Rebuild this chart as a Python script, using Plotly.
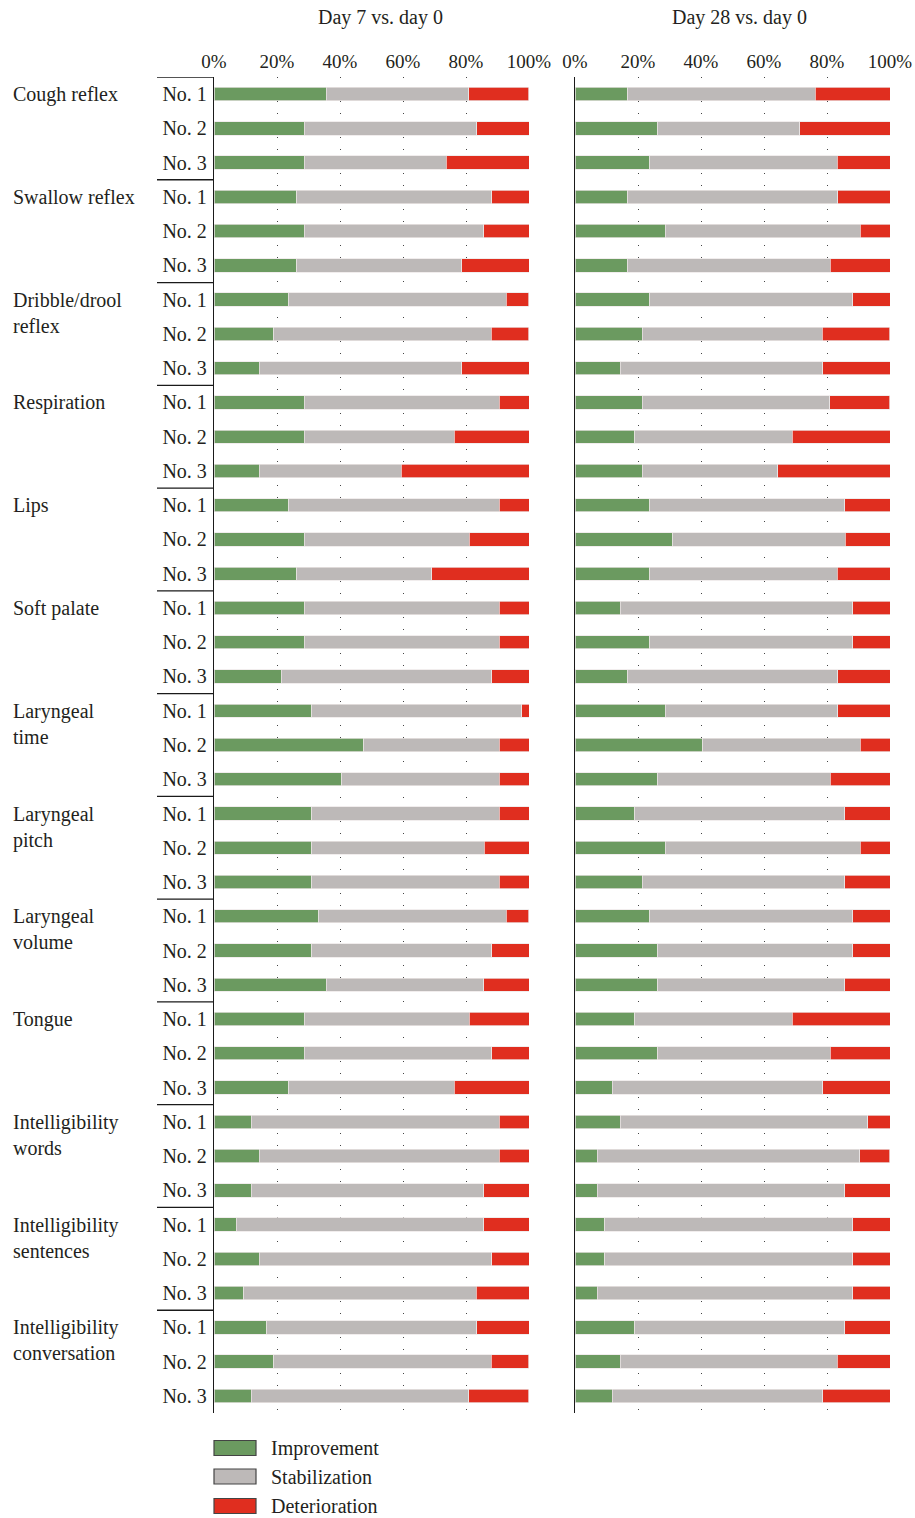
import plotly.graph_objects as go

# ---------------- data ----------------
groups = ["Cough reflex", "Swallow reflex", "Dribble/drool<br>reflex", "Respiration", "Lips",
          "Soft palate", "Laryngeal<br>time", "Laryngeal<br>pitch", "Laryngeal<br>volume",
          "Tongue", "Intelligibility<br>words", "Intelligibility<br>sentences",
          "Intelligibility<br>conversation"]
subitems = ["No. 1", "No. 2", "No. 3"]
series_names = ["Improvement", "Stabilization", "Deterioration"]
tick_vals = [0, 20, 40, 60, 80, 100]
tick_text = ["0%", "20%", "40%", "60%", "80%", "100%"]
panel_titles = ["Day 7 vs. day 0", "Day 28 vs. day 0"]

d7_imp = [35.7, 28.6, 28.6, 26.2, 28.6, 26.2, 23.8, 19.0, 14.3, 28.6, 28.6, 14.3,
          23.8, 28.6, 26.2, 28.6, 28.6, 21.4, 31.0, 47.6, 40.5, 31.0, 31.0, 31.0,
          33.3, 31.0, 35.7, 28.6, 28.6, 23.8, 11.9, 14.3, 11.9, 7.1, 14.3, 9.5,
          16.7, 19.0, 11.9]
d7_stab = [45.2, 54.8, 45.2, 61.9, 57.1, 52.4, 69.0, 69.0, 64.3, 61.9, 47.6, 45.2,
           66.7, 52.4, 42.9, 61.9, 61.9, 66.7, 66.7, 42.9, 50.0, 59.5, 54.8, 59.5,
           59.5, 57.1, 50.0, 52.4, 59.5, 52.4, 78.6, 76.2, 73.8, 78.6, 73.8, 73.8,
           66.7, 69.0, 69.0]
d7_det = [19.0, 16.7, 26.2, 11.9, 14.3, 21.4, 7.1, 11.9, 21.4, 9.5, 23.8, 40.5,
          9.5, 19.0, 31.0, 9.5, 9.5, 11.9, 2.4, 9.5, 9.5, 9.5, 14.3, 9.5,
          7.1, 11.9, 14.3, 19.0, 11.9, 23.8, 9.5, 9.5, 14.3, 14.3, 11.9, 16.7,
          16.7, 11.9, 19.0]

d28_imp = [16.7, 26.2, 23.8, 16.7, 28.6, 16.7, 23.8, 21.4, 14.3, 21.4, 19.0, 21.4,
           23.8, 31.0, 23.8, 14.3, 23.8, 16.7, 28.6, 40.5, 26.2, 19.0, 28.6, 21.4,
           23.8, 26.2, 26.2, 19.0, 26.2, 11.9, 14.3, 7.1, 7.1, 9.5, 9.5, 7.1,
           19.0, 14.3, 11.9]
d28_stab = [59.5, 45.2, 59.5, 66.7, 61.9, 64.3, 64.3, 57.1, 64.3, 59.5, 50.0, 42.9,
            61.9, 54.8, 59.5, 73.8, 64.3, 66.7, 54.8, 50.0, 54.8, 66.7, 61.9, 64.3,
            64.3, 61.9, 59.5, 50.0, 54.8, 66.7, 78.6, 83.3, 78.6, 78.6, 78.6, 81.0,
            66.7, 69.0, 66.7]
d28_det = [23.8, 28.6, 16.7, 16.7, 9.5, 19.0, 11.9, 21.4, 21.4, 19.0, 31.0, 35.7,
           14.3, 14.3, 16.7, 11.9, 11.9, 16.7, 16.7, 9.5, 19.0, 14.3, 9.5, 14.3,
           11.9, 11.9, 14.3, 31.0, 19.0, 21.4, 7.1, 9.5, 14.3, 11.9, 11.9, 11.9,
           14.3, 16.7, 21.4]

# ---------------- styling ----------------
W, H = 915, 1518
FONT = "Liberation Serif"
TXT = "#231f20"
colors = ["#6b9a60", "#bdb9b8", "#e02e1f"]

keys = [f"{g}|{s}" for g in groups for s in subitems]
labels = [s for g in groups for s in subitems]

def px_x(p):
    return p / W

def px_y(p):
    return 1 - p / H

y_top, y_bot = 77, 1413
ydom = [px_y(y_bot), px_y(y_top)]
xdom1 = [px_x(214), px_x(529)]
xdom2 = [px_x(575), px_x(890)]

fig = go.Figure()
panels = [(d7_imp, d7_stab, d7_det), (d28_imp, d28_stab, d28_det)]
for pi, vals in enumerate(panels):
    xa = "x" if pi == 0 else "x2"
    ya = "y" if pi == 0 else "y2"
    for si, v in enumerate(vals):
        fig.add_trace(go.Bar(
            x=v, y=keys, orientation="h", name=series_names[si],
            marker=dict(color=colors[si], line=dict(color="rgba(235,230,230,0.9)", width=0.8)),
            width=0.39, xaxis=xa, yaxis=ya, showlegend=False,
            hovertemplate="%{x}%<extra>" + series_names[si] + "</extra>"))

xcommon = dict(range=[0, 100], side="top", tickmode="array", tickvals=tick_vals,
               ticktext=tick_text, showgrid=True, gridcolor="#444", gridwidth=1,
               griddash="1px,11px", zeroline=False, ticks="", showline=False,
               automargin=False, ticklabelstandoff=4,
               tickfont=dict(family=FONT, size=19, color=TXT), fixedrange=True)
ycommon = dict(domain=ydom, type="category", categoryorder="array", categoryarray=keys,
               range=[len(keys) - 0.5, -0.5], showgrid=False, zeroline=False,
               showline=True, linecolor="#1a1a1a", linewidth=1.3, ticks="",
               automargin=False, fixedrange=True)

fig.update_layout(
    width=W, height=H, margin=dict(l=0, r=0, t=0, b=0, autoexpand=False),
    paper_bgcolor="white", plot_bgcolor="white", barmode="stack",
    font=dict(family=FONT, size=20, color=TXT),
    xaxis=dict(domain=xdom1, anchor="y", **xcommon),
    xaxis2=dict(domain=xdom2, anchor="y2", **xcommon),
    yaxis=dict(anchor="x", tickmode="array", tickvals=keys, ticktext=labels,
               tickfont=dict(family=FONT, size=20, color=TXT), ticklabelstandoff=2, **ycommon),
    yaxis2=dict(anchor="x2", showticklabels=False, **ycommon),
)

# bracket lines separating groups on the left
shapes = []
for gi in range(len(groups)):
    yb = gi * len(subitems) - 0.5
    shapes.append(dict(type="line", xref="paper", yref="y", x0=px_x(157), x1=px_x(214),
                       y0=yb, y1=yb, line=dict(color="#1a1a1a", width=1.3)))

annotations = []
# group labels
for gi, g in enumerate(groups):
    annotations.append(dict(text=g, xref="paper", yref="y", x=px_x(11),
                            y=keys[gi * len(subitems)], xanchor="left", yanchor="top",
                            yshift=13, align="left", showarrow=False,
                            font=dict(family=FONT, size=20, color=TXT)))
# panel titles
for t, cx in zip(panel_titles, [380, 739]):
    annotations.append(dict(text=t, xref="paper", yref="paper", x=px_x(cx), y=px_y(17),
                            xanchor="center", yanchor="middle", showarrow=False,
                            font=dict(family=FONT, size=20, color=TXT)))
# legend (manual)
for si, (nm, cy) in enumerate(zip(series_names, [1448, 1476.5, 1506])):
    shapes.append(dict(type="rect", xref="paper", yref="paper", x0=px_x(214), x1=px_x(256),
                       y0=px_y(cy + 7.5), y1=px_y(cy - 7.5), fillcolor=colors[si],
                       line=dict(color="#444", width=1.2)))
    annotations.append(dict(text=nm, xref="paper", yref="paper", x=px_x(269), y=px_y(cy),
                            xanchor="left", yanchor="middle", showarrow=False,
                            font=dict(family=FONT, size=20, color=TXT)))

fig.update_layout(shapes=shapes, annotations=annotations)
fig.write_html("out.html", config={"displayModeBar": False},
               post_script="document.body.style.margin='0';document.body.style.overflow='hidden';")
